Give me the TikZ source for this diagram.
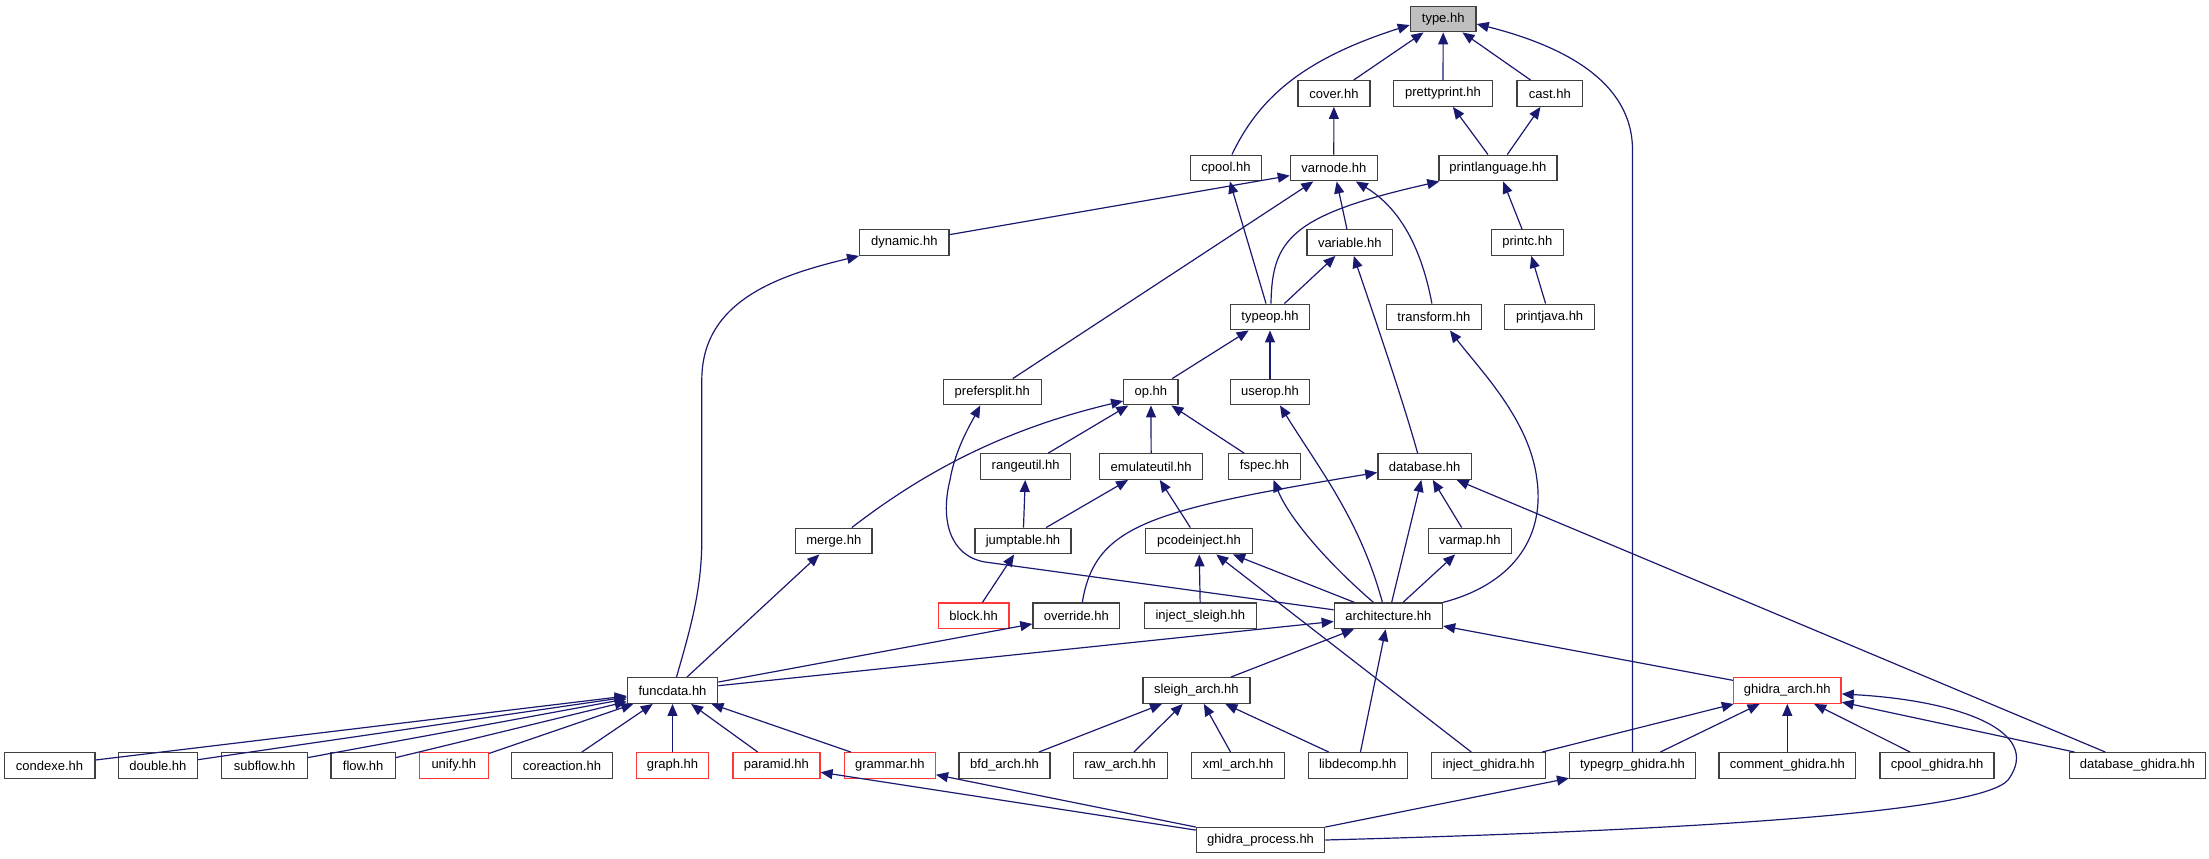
\documentclass[tikz,border=0pt]{standalone}
\usepackage{fontspec}
\setmainfont{Liberation Sans}
\usetikzlibrary{arrows.meta}
\definecolor{edgeblue}{RGB}{25,25,112}
\definecolor{boxgray}{RGB}{64,64,64}
\definecolor{boxred}{RGB}{255,55,55}
\definecolor{typegray}{RGB}{191,191,191}
\tikzset{
  box/.style={draw=boxgray, line width=1.3pt, fill=white, rectangle, inner xsep=2pt, inner ysep=0pt,
    minimum height=25.6pt, font=\fontsize{13}{15}\selectfont, text=black},
  nb/.style={box, minimum width=#1},
  rb/.style={box, draw=boxred, minimum width=#1},
  edge/.style={draw=edgeblue, line width=1.2pt, -{Triangle[length=12pt,width=10pt]}},
}
\begin{document}
\begin{tikzpicture}[x=1pt,y=-1pt]
\useasboundingbox (0,0) rectangle (2209,859);
% nodes
\node[nb=65.7, fill=typegray] (type) at (1443.2,19) {type.hh};
\node[nb=72.1] (cover) at (1333.9,93.5) {cover.hh};
\node[nb=98.9] (prettyprint) at (1443.0,93.5) {prettyprint.hh};
\node[nb=65.4] (cast) at (1549.8,93.5) {cast.hh};
\node[nb=71.1] (cpool) at (1225.9,168) {cpool.hh};
\node[nb=86.8] (varnode) at (1333.8,168) {varnode.hh};
\node[nb=117.9] (printlanguage) at (1497.9,168) {printlanguage.hh};
\node[nb=89.3] (dynamic) at (904.3,242.5) {dynamic.hh};
\node[nb=85.4] (variable) at (1349.8,242.5) {variable.hh};
\node[nb=71.8] (printc) at (1527.3,242.5) {printc.hh};
\node[nb=78.6] (typeop) at (1270,317) {typeop.hh};
\node[nb=95] (transform) at (1433.9,317) {transform.hh};
\node[nb=90] (printjava) at (1549.6,317) {printjava.hh};
\node[nb=98] (prefersplit) at (992.3,392) {prefersplit.hh};
\node[nb=54.3] (op) at (1150.9,392) {op.hh};
\node[nb=78.6] (userop) at (1270,392) {userop.hh};
\node[nb=90] (rangeutil) at (1025.7,466.5) {rangeutil.hh};
\node[nb=103] (emulateutil) at (1151.2,466.5) {emulateutil.hh};
\node[nb=72.5] (fspec) at (1264.5,466.5) {fspec.hh};
\node[nb=93.5] (database) at (1424.6,466.5) {database.hh};
\node[nb=76.1] (merge) at (833.8,541) {merge.hh};
\node[nb=96] (jumptable) at (1023,541) {jumptable.hh};
\node[nb=106.7] (pcodeinject) at (1199,541) {pcodeinject.hh};
\node[nb=83.2] (varmap) at (1469.8,541) {varmap.hh};
\node[rb=70.7] (block) at (973.6,615.8) {block.hh};
\node[nb=86.7] (override) at (1076.3,615.8) {override.hh};
\node[nb=112.1] (injsleigh) at (1200.4,615.8) {inject\_sleigh.hh};
\node[nb=108.2] (architecture) at (1388.4,615.8) {architecture.hh};
\node[nb=90.3] (funcdata) at (672.5,690.5) {funcdata.hh};
\node[nb=107.1] (sleigharch) at (1196.4,690.5) {sleigh\_arch.hh};
\node[rb=107.5] (ghidraarch) at (1787.3,690.5) {ghidra\_arch.hh};
\node[nb=90.7] (condexe) at (49.6,765.5) {condexe.hh};
\node[nb=79.3] (double) at (157.9,765.5) {double.hh};
\node[nb=85.7] (subflow) at (264.6,765.5) {subflow.hh};
\node[nb=64.3] (flow) at (363.2,765.5) {flow.hh};
\node[rb=68.9] (unify) at (453.8,765.5) {unify.hh};
\node[nb=100.6] (coreaction) at (562,765.5) {coreaction.hh};
\node[rb=71.6] (graph) at (672.5,765.5) {graph.hh};
\node[rb=87.1] (paramid) at (776.4,765.5) {paramid.hh};
\node[rb=91.1] (grammar) at (889.8,765.5) {grammar.hh};
\node[nb=91.1] (bfdarch) at (1004.5,765.5) {bfd\_arch.hh};
\node[nb=93.9] (rawarch) at (1120.2,765.5) {raw\_arch.hh};
\node[nb=93.2] (xmlarch) at (1238,765.5) {xml\_arch.hh};
\node[nb=98.9] (libdecomp) at (1357.7,765.5) {libdecomp.hh};
\node[nb=113.6] (injghidra) at (1488.6,765.5) {inject\_ghidra.hh};
\node[nb=125.8] (typegrp) at (1632.5,765.5) {typegrp\_ghidra.hh};
\node[nb=136.8] (commentghidra) at (1787.3,765.5) {comment\_ghidra.hh};
\node[nb=113.9] (cpoolghidra) at (1937,765.5) {cpool\_ghidra.hh};
\node[nb=136.1] (dbghidra) at (2137.3,765.5) {database\_ghidra.hh};
\node[nb=128.2] (ghidraprocess) at (1260.5,840) {ghidra\_process.hh};
% edges (arrow at the included file)
\draw[edge] ([xshift=6pt]cpool.north) .. controls (1258,100) and (1300,60) .. ([yshift=-6pt]type.west);
\draw[edge] (cover) -- (type);
\draw[edge] (prettyprint) -- (type);
\draw[edge] (cast) -- (type);
\draw[edge] (typegrp.north) -- (typegrp.north |- 0,150) .. controls (1632.5,80) and (1560,45) .. ([yshift=-5pt]type.east);
\draw[edge] (varnode) -- (cover);
\draw[edge] (printlanguage) -- (prettyprint);
\draw[edge] (printlanguage) -- (cast);
\draw[edge] (dynamic) -- (varnode);
\draw[edge] (prefersplit) -- (varnode);
\draw[edge] (variable) -- (varnode);
\draw[edge] ([xshift=-2pt]transform.north) .. controls (1420,240) and (1395,205) .. ([xshift=22pt]varnode.south);
\draw[edge] (typeop) -- (cpool);
\draw[edge] ([xshift=1pt]typeop.north) .. controls (1272,240) and (1290,215) .. ([xshift=1pt]printlanguage.south west);
\draw[edge] (printc) -- (printlanguage);
\draw[edge] (printjava) -- (printc);
\draw[edge] (typeop) -- (variable);
\draw[edge] ([xshift=-7pt]database.north) .. controls (1400,390) and (1365,290) .. ([xshift=4pt]variable.south);
\draw[edge] (op) -- (typeop);
\draw[edge] (userop) -- (typeop);
\draw[edge] (architecture.north east) .. controls (1510,585) and (1545,540) .. (1537,480) .. controls (1530,420) and (1480,370) .. ([xshift=16pt]transform.south);
\draw[edge] ([xshift=4pt]funcdata.north) .. controls (690,630) and (701.8,590) .. (701.8,540) -- (701.8,380) .. controls (701.8,300) and (780,275) .. (dynamic.south west);
\draw[edge] ([xshift=18pt]merge.north) .. controls (920,475) and (1000,430) .. ([yshift=-9pt]op.west);
\draw[edge] (rangeutil) -- (op);
\draw[edge] (emulateutil) -- (op);
\draw[edge] (fspec) -- (op);
\draw[edge] ([xshift=-6pt]architecture.north) .. controls (1360,520) and (1320,470) .. ([xshift=10pt]userop.south);
\draw[edge] ([yshift=6pt]architecture.west) -- (985,562) .. controls (950,556) and (940,520) .. (950,480) .. controls (955,450) and (970,425) .. ([xshift=-12pt]prefersplit.south);
\draw[edge] (jumptable) -- (rangeutil);
\draw[edge] (jumptable) -- (emulateutil);
\draw[edge] (pcodeinject) -- (emulateutil);
\draw[edge] ([xshift=-15pt]architecture.north) .. controls (1330,565) and (1290,520) .. ([xshift=9pt]fspec.south);
\draw[edge] ([xshift=6pt]override.north) .. controls (1095,525) and (1150,510) .. ([yshift=-6pt]database.west);
\draw[edge] (architecture) -- (database);
\draw[edge] (varmap) -- (database);
\draw[edge] (dbghidra) -- (database);
\draw[edge] (block) -- (jumptable);
\draw[edge] (funcdata) -- (merge);
\draw[edge] (injsleigh) -- (pcodeinject);
\draw[edge] (architecture) -- (pcodeinject);
\draw[edge] (injghidra) -- (pcodeinject);
\draw[edge] (architecture) -- (varmap);
\draw[edge] (funcdata) -- (override);
\draw[edge] (funcdata) -- (architecture);
\draw[edge] (sleigharch) -- (architecture);
\draw[edge] (libdecomp) -- (architecture);
\draw[edge] (ghidraarch) -- (architecture);
\draw[edge] (condexe) -- (funcdata);
\draw[edge] (double) -- (funcdata);
\draw[edge] (subflow) -- (funcdata);
\draw[edge] (flow) -- (funcdata);
\draw[edge] (unify) -- (funcdata);
\draw[edge] (coreaction) -- (funcdata);
\draw[edge] (graph) -- (funcdata);
\draw[edge] (paramid) -- (funcdata);
\draw[edge] (grammar) -- (funcdata);
\draw[edge] (bfdarch) -- (sleigharch);
\draw[edge] (rawarch) -- (sleigharch);
\draw[edge] (xmlarch) -- (sleigharch);
\draw[edge] (libdecomp) -- (sleigharch);
\draw[edge] (injghidra) -- (ghidraarch);
\draw[edge] (typegrp) -- (ghidraarch);
\draw[edge] (commentghidra) -- (ghidraarch);
\draw[edge] (cpoolghidra) -- (ghidraarch);
\draw[edge] (dbghidra) -- (ghidraarch);
\draw[edge] (ghidraprocess.east) .. controls (1700,830) and (1980,812) .. (2008,780) .. controls (2045,730) and (1955,700) .. ([yshift=-3.5pt]ghidraarch.east);
\draw[edge] (ghidraprocess) -- (paramid);
\draw[edge] (ghidraprocess) -- (grammar);
\draw[edge] (ghidraprocess) -- (typegrp);
\end{tikzpicture}
\end{document}
